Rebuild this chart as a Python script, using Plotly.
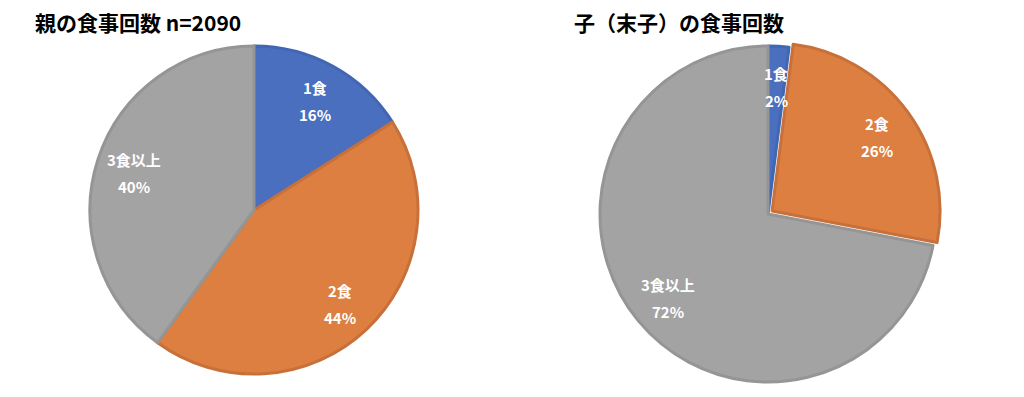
import math
import plotly.graph_objects as go

labels = ["1食", "2食", "3食以上"]
parent_values = [16, 44, 40]
child_values = [2, 26, 72]
parent_pull = [0, 0, 0]
child_pull = [0, 0.03, 0]
titles = ["親の食事回数 n=2090", "子（末子）の食事回数"]

fill_colors = ["#4A6FBF", "#DC7F41", "#A3A3A3"]
line_colors = ["#4166B3", "#C8703A", "#959595"]

FONT = "Noto Sans CJK JP"
W, H = 1024, 397
OFF = 8  # page body margin in the browser


def px_x(px):
    return (px - OFF) / W


def px_y(py):
    return 1 - (py - OFF) / H


fig = go.Figure()


def add_pie(values, pull, cx, cy, r):
    maxpull = max(pull)
    R = r * (1 + maxpull)
    fig.add_trace(go.Pie(
        labels=labels,
        values=values,
        sort=False,
        direction="clockwise",
        rotation=0,
        pull=pull,
        domain=dict(x=[px_x(cx - R), px_x(cx + R)], y=[px_y(cy + R), px_y(cy - R)]),
        marker=dict(colors=fill_colors, line=dict(color=line_colors, width=3)),
        textinfo="none",
        showlegend=False,
        hoverinfo="label+value",
    ))
    # data labels placed along each slice's mid-angle (Excel style, ~0.77 r)
    total = sum(values)
    cum = 0
    for lab, v, p in zip(labels, values, pull):
        theta = 2 * math.pi * (cum + v / 2) / total
        cum += v
        d = r * (0.77 + p)
        lx = cx + d * math.sin(theta)
        ly = cy - d * math.cos(theta) + 2
        for txt, shift in ((lab, 13.5), (f"{v}%", -13.5)):
            fig.add_annotation(
                text=txt, x=px_x(lx), y=px_y(ly), xref="paper", yref="paper",
                xanchor="center", yanchor="middle", yshift=shift, showarrow=False,
                font=dict(family=FONT, size=15, color="white", weight="bold"),
            )


add_pie(parent_values, parent_pull, 254, 210, 164)
add_pie(child_values, child_pull, 768, 214, 168)

for t, x0 in zip(titles, (33, 572)):
    fig.add_annotation(text=t, x=px_x(x0), y=px_y(22), xref="paper", yref="paper",
                       xanchor="left", yanchor="middle", showarrow=False,
                       font=dict(family=FONT, size=21, color="black", weight="bold"))

fig.update_layout(
    width=W, height=H,
    margin=dict(l=0, r=0, t=0, b=0),
    paper_bgcolor="white", plot_bgcolor="white",
    font=dict(family=FONT),
)

fig.write_html("out.html")
